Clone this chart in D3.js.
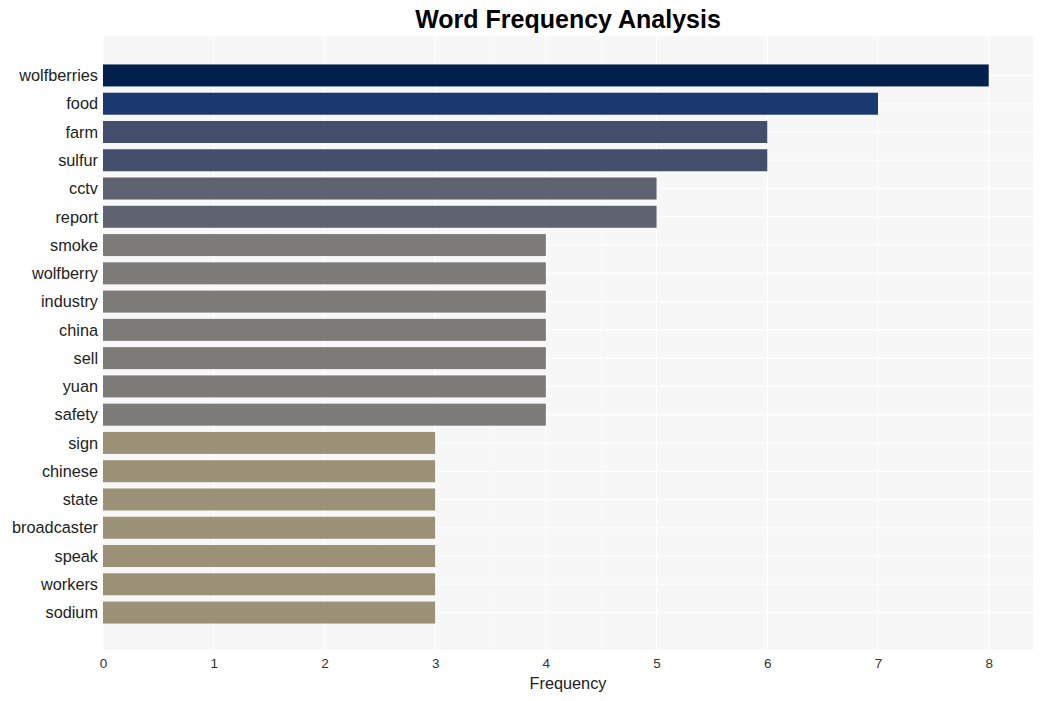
<!DOCTYPE html>
<html><head><meta charset="utf-8">
<script src="https://cdn.jsdelivr.net/npm/d3@7"></script>
<style>body{margin:0;background:#fff;font-family:Arial,"Liberation Sans",sans-serif;}</style>
</head><body>
<svg id="chart" width="1042" height="701"></svg>
<script>
const words = ["wolfberries","food","farm","sulfur","cctv","report","smoke","wolfberry","industry","china","sell","yuan","safety","sign","chinese","state","broadcaster","speak","workers","sodium"];
const counts = [8,7,6,6,5,5,4,4,4,4,4,4,4,3,3,3,3,3,3,3];
const xTicks = [0,1,2,3,4,5,6,7,8];
const colorValues = [3,4,5,6,7,8];
const colorRange = ["#9a9177","#7c7b78","#5f636f","#434e6c","#1b3870","#00214e"];

const svg = d3.select("#chart");
const pLeft = 103, pRight = 1033, pTop = 36, pBottom = 650;

const x = d3.scaleLinear().domain([0, 8.4]).range([pLeft, pRight]);
const y = d3.scalePoint().domain(words).range([pTop + 1, pBottom + 1]).padding(1.36);
const bh = 22;
const color = d3.scaleOrdinal().domain(colorValues).range(colorRange);

svg.append("rect").attr("x", pLeft).attr("y", pTop).attr("width", pRight-pLeft).attr("height", pBottom-pTop).attr("fill", "#f7f7f7");

// minor vertical gridlines
svg.append("g").selectAll("line").data(d3.range(0.5, 8.4, 1)).join("line")
  .attr("x1", d=>x(d)).attr("x2", d=>x(d)).attr("y1", pTop).attr("y2", pBottom)
  .attr("stroke", "#fafafa").attr("stroke-width", 0.5);
// major vertical gridlines
svg.append("g").selectAll("line").data(xTicks).join("line")
  .attr("x1", d=>x(d)).attr("x2", d=>x(d)).attr("y1", pTop).attr("y2", pBottom)
  .attr("stroke", "#ffffff").attr("stroke-width", 1.1);
// horizontal gridlines
svg.append("g").selectAll("line").data(words).join("line")
  .attr("x1", pLeft).attr("x2", pRight).attr("y1", d=>y(d)).attr("y2", d=>y(d))
  .attr("stroke", "#ffffff").attr("stroke-width", 1.1);

svg.append("g").selectAll("rect").data(words).join("rect")
  .attr("x", x(0)).attr("y", d=>y(d)-bh/2)
  .attr("width", (d,i)=>x(counts[i])-x(0)).attr("height", bh)
  .attr("fill", (d,i)=>color(counts[i]));

// y axis
const ya = svg.append("g").attr("transform", `translate(${pLeft},0)`)
  .call(d3.axisLeft(y).tickSize(0).tickPadding(5));
ya.select(".domain").remove();
ya.selectAll("text").attr("font-size", 16.3).attr("fill", "#222").attr("font-family", "Arial, 'Liberation Sans', sans-serif");

// x axis
const xa = svg.append("g").attr("transform", `translate(0,${pBottom})`)
  .call(d3.axisBottom(x).tickValues(xTicks).tickSize(0).tickPadding(8).tickFormat(d3.format("d")));
xa.select(".domain").remove();
xa.selectAll("text").attr("font-size", 13.5).attr("fill", "#333").attr("font-family", "Arial, 'Liberation Sans', sans-serif");

svg.append("text").attr("x", (pLeft+pRight)/2).attr("y", 689).attr("text-anchor", "middle")
  .attr("font-size", 16.3).attr("fill", "#222").text("Frequency");

svg.append("text").attr("x", (pLeft+pRight)/2).attr("y", 28).attr("text-anchor", "middle")
  .attr("font-size", 25).attr("font-weight", "bold").attr("fill", "#000").text("Word Frequency Analysis");
</script>
</body></html>
